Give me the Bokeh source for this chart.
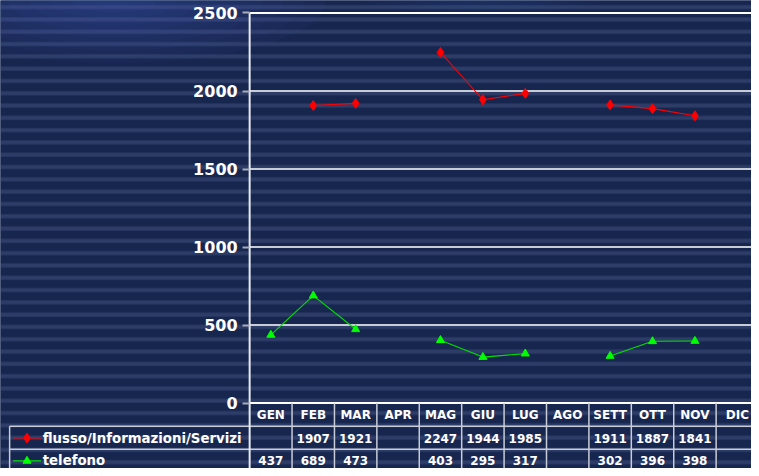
import numpy as np
from bokeh.plotting import figure
from bokeh.models import LinearAxis, FixedTicker, Range1d
from bokeh.core.properties import value
from bokeh.embed import file_html
from bokeh.resources import INLINE

# ---------------- data ----------------
months = ["GEN", "FEB", "MAR", "APR", "MAG", "GIU", "LUG", "AGO", "SETT", "OTT", "NOV", "DIC"]
flusso = [None, 1907, 1921, None, 2247, 1944, 1985, None, 1911, 1887, 1841, None]
telefono = [437, 689, 473, None, 403, 295, 317, None, 302, 396, 398, None]
y_ticks = [0, 500, 1000, 1500, 2000, 2500]
series_names = ["flusso/Informazioni/Servizi", "telefono"]
series_colors = ["#ff0000", "#00e000"]

# ---------------- geometry (data units) ----------------
n = len(months)
X_LEFT, X_RIGHT = -5.875, 11.834
Y_BOTTOM, Y_TOP = -419.0, 2580.0
ROW1, ROW2 = -148.1, -296.1          # table row borders below 0
LEG_LEFT = -5.66                       # left border of legend cells
HDR_Y, R1_Y, R2_Y = -76.9, -223.7, -370.4
FONT = value("DejaVu Sans")

p = figure(width=751, height=468, output_backend="svg", toolbar_location=None,
           x_range=Range1d(X_LEFT, X_RIGHT), y_range=Range1d(Y_BOTTOM, Y_TOP),
           x_axis_location=None, y_axis_location=None, min_border=0,
           background_fill_color="#18285a", border_fill_color="#18285a",
           outline_line_color=None)
p.xgrid.visible = False
p.ygrid.visible = False

# background stripes (decoration)
p.quad(left=[X_LEFT - 1], right=[X_RIGHT + 1], bottom=[Y_BOTTOM - 100], top=[Y_TOP + 100],
       fill_color="#17264f", line_color=None,
       hatch_pattern="horizontal_line", hatch_color="#6070a0", hatch_alpha=0.3,
       hatch_weight=4, hatch_scale=12.3)
# soft top-left glow
for k in range(10):
    f = 1.0 - k / 10.0
    p.ellipse(x=[-3.2], y=[Y_TOP], width=[10 * f], height=[800 * f], fill_color="#4a7ae0",
              fill_alpha=0.035, line_color=None)
for k in range(6):
    f = 1.0 - k / 6.0
    p.ellipse(x=[5.5], y=[Y_TOP + 40], width=[6 * f], height=[250 * f], fill_color="#4a7ae0",
              fill_alpha=0.03, line_color=None)

xs = np.arange(n) + 0.5

# grid lines
grid_y = [t for t in y_ticks if t > 0]
p.segment(x0=[0] * len(grid_y), x1=[n] * len(grid_y), y0=grid_y, y1=grid_y,
          line_color=["#c8ccd6"] * (len(grid_y) - 1) + ["#ffffff"], line_width=2)

# y axis inside the frame at x = 0
ax = LinearAxis(ticker=FixedTicker(ticks=y_ticks), fixed_location=0, bounds=(0, 2500))
ax.axis_line_color = None
ax.major_tick_out = 7
ax.major_tick_in = 0
ax.major_tick_line_color = "#a8acb8"
ax.major_tick_line_width = 2
ax.minor_tick_line_color = None
ax.major_label_text_font = "DejaVu Sans"
ax.major_label_text_font_style = "bold"
ax.major_label_text_font_size = "16px"
ax.major_label_text_color = "#ffffff"
ax.major_label_standoff = 5
p.add_layout(ax, "left")

# table lines
p.segment(x0=[0], x1=[n], y0=[0], y1=[0], line_color="#ffffff", line_width=2)
p.segment(x0=[LEG_LEFT, LEG_LEFT], x1=[n, n], y0=[ROW1, ROW2], y1=[ROW1, ROW2],
          line_color="#c8ccd6", line_width=1.5)
col_edges = list(range(1, n + 1))
p.segment(x0=col_edges, x1=col_edges, y0=[0] * n, y1=[Y_BOTTOM] * n,
          line_color="#c8ccd6", line_width=1.5)
p.segment(x0=[0], x1=[0], y0=[2500], y1=[Y_BOTTOM], line_color="#e8eaf0", line_width=2)
p.segment(x0=[LEG_LEFT], x1=[LEG_LEFT], y0=[ROW1], y1=[Y_BOTTOM], line_color="#c8ccd6", line_width=1.5)

# series
def nanify(v):
    return [np.nan if a is None else a for a in v]

f_vals = nanify(flusso)
t_vals = nanify(telefono)
p.line(xs, f_vals, line_color=series_colors[0], line_width=1.1)
p.scatter(xs, f_vals, marker="diamond", size=10, fill_color="#ff0000", line_color="#ff0000")
p.line(xs, t_vals, line_color=series_colors[1], line_width=1.1)
p.scatter(xs, t_vals, marker="triangle", size=8, fill_color="#00ff00", line_color="#00ff00")

# table texts
txt = dict(text_font=FONT, text_font_style="bold", text_font_size=value("12px"),
           text_color="#ffffff", text_align="center", text_baseline="middle")
p.text(x=xs, y=[HDR_Y] * n, text=months, **txt)
p.text(x=xs, y=[R1_Y] * n, text=["" if v is None else str(v) for v in flusso], **txt)
p.text(x=xs, y=[R2_Y] * n, text=["" if v is None else str(v) for v in telefono], **txt)

# legend keys
row_y = [R1_Y, R2_Y]
p.segment(x0=[-5.58] * 2, x1=[-4.92] * 2, y0=row_y, y1=row_y,
          line_color=series_colors, line_width=1.2)
p.scatter(x=[-5.25], y=[row_y[0]], marker="diamond", size=10, fill_color="#ff0000", line_color="#ff0000")
p.scatter(x=[-5.25], y=[row_y[1]], marker="triangle", size=8, fill_color="#00ff00", line_color="#00ff00")
p.text(x=[-4.88] * 2, y=row_y, text=series_names, text_font=FONT, text_font_style="bold",
       text_font_size=value("13.3px"), text_color="#ffffff", text_align="left", text_baseline="middle")

open("out.html", "w").write(file_html(p, INLINE))
